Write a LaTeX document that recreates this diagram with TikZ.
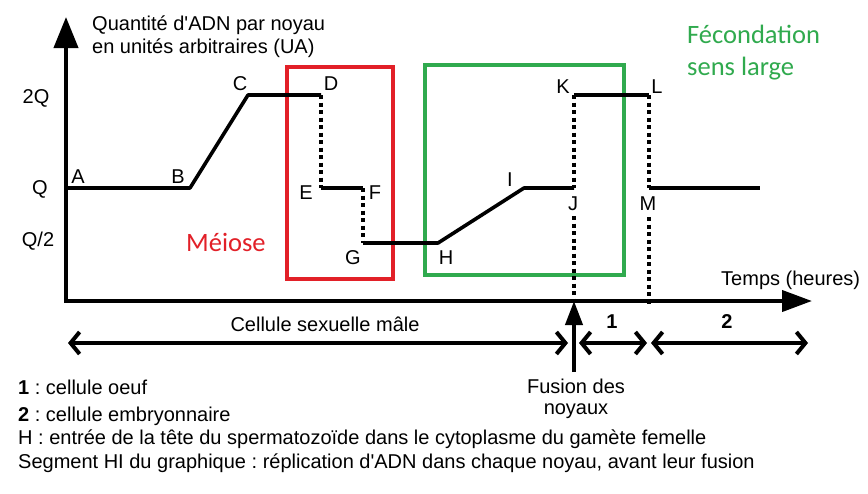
\documentclass[tikz,border=0pt]{standalone}
\usepackage{fontspec}
\setmainfont{Liberation Sans}[Ligatures=TeXOff]
\newfontfamily\calib{Carlito}
\usetikzlibrary{arrows.meta}
\definecolor{myred}{RGB}{226,32,40}
\definecolor{mygreen}{RGB}{48,170,78}
\frenchspacing
\begin{document}
\begin{tikzpicture}[x=1pt,y=-1pt,
  axis/.style={line width=4pt,line join=miter},
  curve/.style={line width=3.6pt,line join=round},
  dots/.style={line width=3.6pt,dash pattern=on 4pt off 3.5pt},
  lab/.style={font=\fontsize{20}{24}\selectfont,inner sep=0pt},
  txt/.style={font=\fontsize{20}{24}\selectfont,inner sep=0pt,anchor=base west},
  ctxt/.style={font=\fontsize{20}{24}\selectfont,inner sep=0pt,anchor=base},
  cal/.style={font=\calib\fontsize{26.5}{30}\selectfont,inner sep=0pt,anchor=base west},
  frame/.style={line width=4pt},
  dbl/.style={line width=4pt,{Straight Barb[length=9pt,width=22pt]}-{Straight Barb[length=9pt,width=22pt]}}]
\useasboundingbox[fill=white] (0,0) rectangle (868,493);
% axes
\coordinate (O) at (66,301);
\coordinate (Ytop) at (66,17);
\coordinate (Xend) at (812,301);
\draw[axis,{Triangle[length=31pt,width=24pt]}-{Triangle[length=30pt,width=21pt]}] (Ytop) -- (O) -- (Xend);
% boxes
\draw[frame,myred] (287,67) rectangle (393,279);
\draw[frame,mygreen] (425,65) rectangle (624,275);
% points
\coordinate (A) at (66,188);
\coordinate (B) at (190,188);
\coordinate (C) at (248,95);
\coordinate (D) at (321,95);
\coordinate (E) at (321,188);
\coordinate (F) at (363,188);
\coordinate (G) at (363,243);
\coordinate (H) at (438,243);
\coordinate (I) at (524,188);
\coordinate (J) at (574,188);
\coordinate (K) at (574,95);
\coordinate (L) at (649,95);
\coordinate (M) at (649,188);
\coordinate (Mend) at (760,188);
\coordinate (Jlow) at (574,216);
\coordinate (Jax) at (574,300);
\coordinate (Mlow) at (649,217);
\coordinate (Max) at (649,305);
% curve
\draw[curve] (A) -- (B) -- (C) -- (D);
\draw[curve] (E) -- (F);
\draw[curve] (G) -- (H) -- (I) -- (J);
\draw[curve] (K) -- (L);
\draw[curve] (M) -- (Mend);
\draw[dots] (D) -- (E);
\draw[dots] (F) -- (G);
\draw[dots] (K) -- (J);
\draw[dots] (Jlow) -- (Jax);
\draw[dots] (L) -- (M);
\draw[dots] (Mlow) -- (Max);
% point labels
\node[lab] (lA) at (78,177) {A};
\node[lab] (lB) at (178,177) {B};
\node[lab] (lC) at (240,84) {C};
\node[lab] (lD) at (331,84) {D};
\node[lab] (lE) at (306,193) {E};
\node[lab] (lF) at (375,193) {F};
\node[lab] (lG) at (353,258) {G};
\node[lab] (lH) at (446,258) {H};
\node[lab] (lI) at (510,180) {I};
\node[lab] (lJ) at (573,204) {J};
\node[lab] (lK) at (563,87) {K};
\node[lab] (lL) at (657,87) {L};
\node[lab] (lM) at (648,204) {M};
% axis labels
\node[lab] (l2Q) at (36,98) {2Q};
\node[lab] (lQ) at (40,189) {Q};
\node[lab] (lQ2) at (38,241) {Q/2};
\node[txt] (yl1) at (92,30) {Quantité d'ADN par noyau};
\node[txt] (yl2) at (92,53) {en unités arbitraires (UA)};
\node[txt] (xl) at (721,285) {Temps (heures)};
% coloured labels
\node[cal,myred] (meiose) at (186,251) {Méiose};
\node[cal,mygreen] (fec1) at (687,43) {Fécondation};
\node[cal,mygreen] (fec2) at (687,75) {sens large};
% bottom arrows
\coordinate (a1l) at (68,343);
\coordinate (a1r) at (568,343);
\coordinate (a2l) at (579,343);
\coordinate (a2r) at (647,343);
\coordinate (a3l) at (651,343);
\coordinate (a3r) at (808,343);
\draw[dbl] (a1l) -- (a1r);
\draw[dbl] (a2l) -- (a2r);
\draw[dbl] (a3l) -- (a3r);
\coordinate (fus) at (574,372);
\coordinate (fustip) at (574,301);
\draw[line width=4pt,-{Triangle[length=24pt,width=17pt]}] (fus) -- (fustip);
\node[ctxt] (csm) at (325,331) {Cellule sexuelle mâle};
\node[ctxt] (n1) at (612,328) {\textbf{1}};
\node[ctxt] (n2) at (727,328) {\textbf{2}};
\node[ctxt] (fd1) at (576,393) {Fusion des};
\node[ctxt] (fd2) at (576,414) {noyaux};
% legend
\node[txt] (lg1) at (18,394) {\textbf{1} : cellule oeuf};
\node[txt] (lg2) at (18,421) {\textbf{2} : cellule embryonnaire};
\node[txt] (lg3) at (18,444) {H : entrée de la tête du spermatozoïde dans le cytoplasme du gamète femelle};
\node[txt] (lg4) at (18,468) {Segment HI du graphique : réplication d'ADN dans chaque noyau, avant leur fusion};
\end{tikzpicture}
\end{document}
